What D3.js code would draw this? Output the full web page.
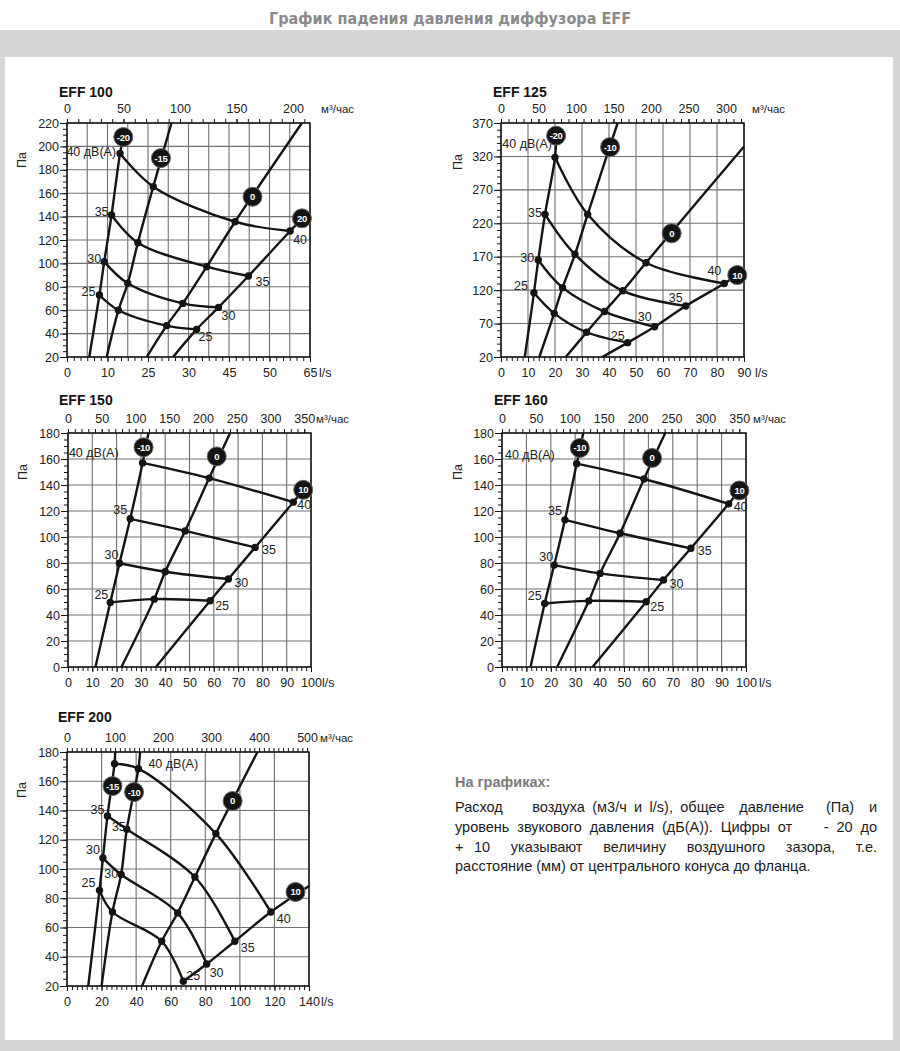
<!DOCTYPE html>
<html><head><meta charset="utf-8">
<script src="https://cdn.jsdelivr.net/npm/d3@7"></script>
<style>body{margin:0;background:#fff} svg{display:block}</style>
</head><body><div id="chart"></div>
<script>
// ================= DATA =================
const pageTitle = "График падения давления диффузора EFF";
const dbLevels = [25, 30, 35, 40];
const dbUnit = "дВ(А)";
const unitTop = "м³/час";
const unitBottom = "l/s";
const unitY = "Па";
const noteTitle = "На графиках:";
const noteLines = [
  "Расход    воздуха (м3/ч и l/s), общее  давление   (Па)  и",
  "уровень звукового давления (дБ(А)). Цифры от    - 20 до",
  "+ 10  указывают  величину  воздушного  зазора,  т.е.",
  "расстояние (мм) от центрального конуса до фланца."
];

// ---- EFF 100 ---- (x in l/s, y in Pa)
const eff100Gaps = ["-20", "-15", "0", "20"];
const eff100XTicks = [0, 10, 20, 30, 40, 50, 60];
const eff100XLabels = ["0", "10", "25", "30", "45", "50", "65"];
const eff100TopTicks = [0, 50, 100, 150, 200];
const eff100YTicks = [20, 40, 60, 80, 100, 120, 140, 160, 180, 200, 220];
const eff100Start = [[5.5, 20], [9.8, 20], [19.7, 20], [26.2, 20]];
const eff100End = [[13.9, 208], [25.8, 220], [58, 220], [58, 138.5]];
const eff100Badge = [[13.9, 208], [23.2, 190], [45.8, 157], [58, 138.5]];
const eff100Dots = [
  [[8.0, 73], [12.7, 60], [24.6, 46.8], [32.0, 43.6]],
  [[9.2, 101.5], [15.0, 83], [28.6, 65.8], [37.4, 62.4]],
  [[11.0, 141.4], [17.5, 117.7], [34.5, 97.2], [44.8, 89.2]],
  [[13.1, 194], [21.3, 165.6], [41.5, 135.6], [55.1, 127.7]]
];

// ---- EFF 125 ----
const eff125Gaps = ["-20", "-10", "0", "10"];
const eff125XTicks = [0, 10, 20, 30, 40, 50, 60, 70, 80, 90];
const eff125TopTicks = [0, 50, 100, 150, 200, 250, 300];
const eff125YTicks = [20, 70, 120, 170, 220, 270, 320, 370];
const eff125Start = [[8.8, 20], [14.2, 20], [24, 20], [37.5, 20]];
const eff125End = [[20.4, 351], [43.2, 370], [90, 335], [87.5, 142.6]];
const eff125Badge = [[20.4, 351], [40.4, 334], [63.2, 205], [87.5, 142.6]];
const eff125Dots = [
  [[12.2, 116], [19.7, 85.3], [31.7, 57], [46.9, 41.5]],
  [[13.8, 165], [22.8, 123.7], [38.3, 88], [56.9, 65.3]],
  [[16.3, 233.4], [27.4, 173.6], [45.1, 119], [68.4, 96.3]],
  [[20, 318.6], [32.1, 233.4], [53.7, 161], [82.7, 130]]
];

// ---- EFF 150 ----
const eff150Gaps = ["-10", "0", "10"];
const eff150XTicks = [0, 10, 20, 30, 40, 50, 60, 70, 80, 90, 100];
const eff150TopTicks = [0, 50, 100, 150, 200, 250, 300, 350];
const eff150YTicks = [0, 20, 40, 60, 80, 100, 120, 140, 160, 180];
const eff150Start = [[11.3, 0], [22.0, 0], [36.2, 0]];
const eff150End = [[33.1, 180], [66.7, 180], [96.8, 136.3]];
const eff150Badge = [[31.1, 169], [61.2, 162], [96.8, 136.3]];
const eff150Dots = [
  [[17.4, 49.7], [35.5, 52.2], [58.5, 51]],
  [[21.2, 79.8], [40, 73.3], [66, 67.7]],
  [[25.6, 114], [48.2, 104.7], [77, 92]],
  [[30.7, 157], [58.1, 145.3], [92.7, 126.8]]
];

// ---- EFF 160 ----
const eff160Gaps = ["-10", "0", "10"];
const eff160XTicks = [0, 10, 20, 30, 40, 50, 60, 70, 80, 90, 100];
const eff160TopTicks = [0, 50, 100, 150, 200, 250, 300, 350];
const eff160YTicks = [0, 20, 40, 60, 80, 100, 120, 140, 160, 180];
const eff160Start = [[11.7, 0], [22.6, 0], [37.1, 0]];
const eff160End = [[33.3, 180], [66.9, 180], [97.3, 135.8]];
const eff160Badge = [[31.9, 168.5], [61.5, 160.8], [97.3, 135.8]];
const eff160Dots = [
  [[17.5, 48.9], [35.6, 50.9], [59.1, 50.2]],
  [[21.4, 78.4], [40.2, 72], [66.2, 66.9]],
  [[25.8, 113.2], [48.4, 102.9], [77.4, 91.3]],
  [[30.6, 156.4], [58.2, 144.6], [92.9, 125.5]]
];

// ---- EFF 200 ----
const eff200Gaps = ["-15", "-10", "0", "10"];
const eff200XTicks = [0, 20, 40, 60, 80, 100, 120, 140];
const eff200TopTicks = [0, 100, 200, 300, 400, 500];
const eff200YTicks = [20, 40, 60, 80, 100, 120, 140, 160, 180];
const eff200Start = [[12.3, 20], [20, 20], [43.4, 20], [67.3, 23.2]];
const eff200End = [[27.9, 180], [42.3, 180], [110.2, 180], [140, 88.4]];
const eff200Badge = [[26.3, 156.7], [38.8, 152.6], [95.8, 146.5], [132.2, 84.3]];
const eff200Dots = [
  [[18.8, 85.4], [26.3, 70.6], [54.8, 50.6], [67.3, 23.2]],
  [[20.8, 107.5], [31.3, 96.2], [64, 70], [80.8, 35]],
  [[23.4, 136.2], [34.6, 127.2], [74, 94.5], [97.1, 50.6]],
  [[27.5, 172], [41.3, 168.6], [86.1, 124.2], [117.9, 70.6]]
];

// ================= LAYOUT / STYLE =================
const FONT = '"Liberation Sans", Arial, sans-serif';
const INK = "#141414";
const GRID = "#707070";
const W = 900, H = 1051;

// label spec: [gapIndex, dbIndex, anchor, dx, dy, withUnit]
const charts = [
  { title: "EFF 100", titlePos: [59, 96.5], box: [67, 123, 243, 234],
    xDomain: [0, 60], xGrid: d3.range(0, 60.01, 5), xTicks: eff100XTicks, xLabels: eff100XLabels, xMinor: d3.range(0, 60.01, 5 / 3),
    topDomain: [0, 215], topTicks: eff100TopTicks, topMinor: d3.range(0, 215, 10),
    yDomain: [20, 220], yTicks: eff100YTicks, yMinor: d3.range(20, 220.01, 5),
    gaps: eff100Gaps, start: eff100Start, end: eff100End, badge: eff100Badge, dots: eff100Dots,
    paPos: [22, 160], topUnitDx: 11, botUnitDx: 9,
    labels: [[0,0,"end",-4,-3,0],[0,1,"end",-3,-3,0],[0,2,"end",-3,-3,0],[0,3,"end",-4,-1,1],
             [3,0,"start",2,8,0],[3,1,"start",3,9,0],[3,2,"start",7,6,0],[3,3,"start",3,9,0]] },
  { title: "EFF 125", titlePos: [493, 96.5], box: [501, 123, 243, 234],
    xDomain: [0, 90], xGrid: d3.range(0, 90.01, 10), xTicks: eff125XTicks, xLabels: null, xMinor: d3.range(0, 90.01, 2),
    topDomain: [0, 324], topTicks: eff125TopTicks, topMinor: d3.range(0, 324, 10),
    yDomain: [20, 370], yTicks: eff125YTicks, yMinor: d3.range(20, 370.01, 10),
    gaps: eff125Gaps, start: eff125Start, end: eff125End, badge: eff125Badge, dots: eff125Dots,
    paPos: [458, 162], topUnitDx: 8, botUnitDx: 11,
    labels: [[0,0,"end",-6,-7,0],[0,1,"end",-4,-2,0],[0,2,"end",-3,-1,0],[0,3,"end",-3,-13,1],
             [3,0,"end",-3,-7,0],[3,1,"end",-3,-10,0],[3,2,"end",-3,-8,0],[3,3,"end",-3,-12,0]] },
  { title: "EFF 150", titlePos: [59, 405], box: [68, 433, 243, 234],
    xDomain: [0, 100], xGrid: d3.range(0, 100.01, 10), xTicks: eff150XTicks, xLabels: null, xMinor: d3.range(0, 100.01, 2),
    topDomain: [0, 360], topTicks: eff150TopTicks, topMinor: d3.range(0, 360, 10),
    yDomain: [0, 180], yTicks: eff150YTicks, yMinor: d3.range(0, 180.01, 5),
    gaps: eff150Gaps, start: eff150Start, end: eff150End, badge: eff150Badge, dots: eff150Dots,
    paPos: [23, 472], topUnitDx: 5, botUnitDx: 11,
    labels: [[0,0,"end",-2,-7,0],[0,1,"end",-1,-8,0],[0,2,"end",-3,-9,0],[0,3,"end",-24,-10,1],
             [2,0,"start",5,5,0],[2,1,"start",6,4,0],[2,2,"start",7,3,0],[2,3,"start",4,3,0]] },
  { title: "EFF 160", titlePos: [494, 405], box: [502, 433, 244, 234],
    xDomain: [0, 100], xGrid: d3.range(0, 100.01, 10), xTicks: eff160XTicks, xLabels: null, xMinor: d3.range(0, 100.01, 2),
    topDomain: [0, 360], topTicks: eff160TopTicks, topMinor: d3.range(0, 360, 10),
    yDomain: [0, 180], yTicks: eff160YTicks, yMinor: d3.range(0, 180.01, 5),
    gaps: eff160Gaps, start: eff160Start, end: eff160End, badge: eff160Badge, dots: eff160Dots,
    paPos: [458, 472], topUnitDx: 7, botUnitDx: 13,
    labels: [[0,0,"end",-3,-7,0],[0,1,"end",-1,-8,0],[0,2,"end",-3,-9,0],[0,3,"end",-22,-9,1],
             [2,0,"start",4,5,0],[2,1,"start",6,4,0],[2,2,"start",7,3,0],[2,3,"start",5,3,0]] },
  { title: "EFF 200", titlePos: [58, 721.5], box: [67, 752, 242, 234],
    xDomain: [0, 140], xGrid: d3.range(0, 140.01, 20), xTicks: eff200XTicks, xLabels: null, xMinor: d3.range(0, 140.01, 20 / 7),
    topDomain: [0, 504], topTicks: eff200TopTicks, topMinor: d3.range(0, 504, 10),
    yDomain: [20, 180], yTicks: eff200YTicks, yMinor: d3.range(20, 180.01, 5),
    gaps: eff200Gaps, start: eff200Start, end: eff200End, badge: eff200Badge, dots: eff200Dots,
    paPos: [22, 790], topUnitDx: 11, botUnitDx: 12,
    labels: [[0,0,"end",-4,-7,0],[0,1,"end",-3,-8,0],[0,2,"end",-3,-6,0],
             [1,1,"end",-3,-1,0],[1,2,"end",-1,-2,0],[1,3,"start",10,-5,1],
             [3,0,"start",3,-5,0],[3,1,"start",3,9,0],[3,2,"start",6,7,0],[3,3,"start",6,7,0]] }
];

// ================= DRAW =================
const svg = d3.select("#chart").append("svg")
  .attr("width", W).attr("height", H)
  .attr("font-family", FONT);

svg.append("rect").attr("width", W).attr("height", H).attr("fill", "#d6d6d6");
svg.append("rect").attr("width", W).attr("height", 30).attr("fill", "#ffffff");
svg.append("rect").attr("x", 5).attr("y", 57).attr("width", 888).attr("height", 983).attr("fill", "#ffffff");

svg.append("text").attr("x", 450).attr("y", 23.5).attr("text-anchor", "middle")
  .attr("font-family", '"DejaVu Sans Condensed", "DejaVu Sans", sans-serif')
  .attr("font-weight", "bold").attr("font-size", 15.5).attr("fill", "#8a8a8a")
  .attr("textLength", 362).attr("lengthAdjust", "spacingAndGlyphs")
  .text(pageTitle);

function styleAxis(sel) {
  sel.select(".domain").remove();
  sel.selectAll("line").attr("stroke", INK).attr("stroke-width", 1);
  sel.selectAll("text").attr("font-size", 12.5).attr("fill", "#222").attr("font-family", FONT);
}

function dedupe(pts) {
  return pts.filter((p, i) => i === 0 || p[0] !== pts[i - 1][0] || p[1] !== pts[i - 1][1]);
}

function drawChart(c) {
  const [bx, by, bw, bh] = c.box;
  const x = d3.scaleLinear().domain(c.xDomain).range([bx, bx + bw]);
  const xt = d3.scaleLinear().domain(c.topDomain).range([bx, bx + bw]);
  const y = d3.scaleLinear().domain(c.yDomain).range([by + bh, by]);
  const g = svg.append("g");

  g.append("text").attr("x", c.titlePos[0]).attr("y", c.titlePos[1])
    .attr("font-weight", "bold").attr("font-size", 14).attr("fill", INK).text(c.title);

  // grid
  g.append("g").selectAll("line").data(c.xGrid).join("line")
    .attr("x1", d => x(d)).attr("x2", d => x(d)).attr("y1", by).attr("y2", by + bh)
    .attr("stroke", GRID).attr("stroke-width", 1.1);
  g.append("g").selectAll("line").data(c.yTicks).join("line")
    .attr("x1", bx).attr("x2", bx + bw).attr("y1", d => y(d)).attr("y2", d => y(d))
    .attr("stroke", GRID).attr("stroke-width", 1.1);

  // axes
  g.append("g").attr("transform", `translate(${bx},0)`)
    .call(d3.axisLeft(y).tickValues(c.yMinor).tickSize(4).tickFormat("")).call(styleAxis);
  g.append("g").attr("transform", `translate(${bx},0)`)
    .call(d3.axisLeft(y).tickValues(c.yTicks).tickSize(7).tickPadding(1)).call(styleAxis);
  g.append("g").attr("transform", `translate(0,${by + bh})`)
    .call(d3.axisBottom(x).tickValues(c.xMinor).tickSize(4).tickFormat("")).call(styleAxis);
  g.append("g").attr("transform", `translate(0,${by + bh})`)
    .call(d3.axisBottom(x).tickValues(c.xTicks).tickSize(5).tickPadding(6.5)
      .tickFormat((d, i) => c.xLabels ? c.xLabels[i] : String(d))).call(styleAxis);
  g.append("g").attr("transform", `translate(0,${by})`)
    .call(d3.axisTop(xt).tickValues(c.topMinor).tickSize(4).tickFormat("")).call(styleAxis);
  g.append("g").attr("transform", `translate(0,${by})`)
    .call(d3.axisTop(xt).tickValues(c.topTicks).tickSize(4).tickPadding(6.5)).call(styleAxis);

  // frame
  g.append("rect").attr("x", bx).attr("y", by).attr("width", bw).attr("height", bh)
    .attr("fill", "none").attr("stroke", INK).attr("stroke-width", 1.5);

  // units
  g.append("text").attr("x", bx + bw + c.topUnitDx).attr("y", by - 10.5)
    .attr("font-size", 11.5).attr("fill", "#222").text(unitTop);
  g.append("text").attr("x", bx + bw + c.botUnitDx).attr("y", by + bh + 20.4)
    .attr("font-size", 12.5).attr("fill", "#222").text(unitBottom);
  g.append("text").attr("transform", `translate(${c.paPos[0]},${c.paPos[1]}) rotate(-90)`)
    .attr("text-anchor", "middle").attr("dominant-baseline", "central")
    .attr("font-size", 12.5).attr("fill", "#222").text(unitY);

  // curve labels
  g.append("g").selectAll("text").data(c.labels).join("text")
    .attr("x", d => x(c.dots[d[1]][d[0]][0]) + d[3])
    .attr("y", d => y(c.dots[d[1]][d[0]][1]) + d[4])
    .attr("text-anchor", d => d[2]).attr("dominant-baseline", "central")
    .attr("font-size", 12.5).attr("fill", "#222")
    .text(d => d[5] ? `${dbLevels[d[1]]} ${dbUnit}` : String(dbLevels[d[1]]));

  const line = d3.line().x(d => x(d[0])).y(d => y(d[1])).curve(d3.curveCatmullRom.alpha(0.5));

  // air-gap lines
  g.append("g").selectAll("path").data(c.gaps.map((_, i) =>
      dedupe([c.start[i], ...c.dots.map(r => r[i]), c.end[i]])))
    .join("path").attr("d", line).attr("fill", "none")
    .attr("stroke", INK).attr("stroke-width", 2.4).attr("stroke-linejoin", "round");

  // sound level curves
  g.append("g").selectAll("path").data(c.dots).join("path")
    .attr("d", line).attr("fill", "none")
    .attr("stroke", INK).attr("stroke-width", 2.4);

  // dots
  g.append("g").selectAll("circle").data(c.dots.flat()).join("circle")
    .attr("cx", d => x(d[0])).attr("cy", d => y(d[1])).attr("r", 3.7).attr("fill", INK);

  // badges
  const bg = g.append("g").selectAll("g").data(c.gaps.map((n, i) => ({ n, p: c.badge[i] }))).join("g")
    .attr("transform", d => `translate(${x(d.p[0])},${y(d.p[1])})`);
  bg.append("circle").attr("r", 9.5).attr("fill", INK).attr("stroke", "#666").attr("stroke-width", 1);
  bg.append("text").attr("text-anchor", "middle").attr("dominant-baseline", "central")
    .attr("font-size", 9.5).attr("font-weight", "bold").attr("fill", "#fff")
    .attr("letter-spacing", -0.3).text(d => d.n);
}

charts.forEach(drawChart);

// ---- notes ----
svg.append("text").attr("x", 455).attr("y", 787).attr("font-size", 14.5)
  .attr("font-weight", "bold").attr("fill", "#7a7a7a").text(noteTitle);

const NOTE_W = 422;
noteLines.forEach((ln, i) => {
  const t = svg.append("text").attr("x", 455).attr("y", 812 + i * 19.8)
    .attr("font-size", 14.5).attr("fill", "#1c1c1c")
    .style("white-space", "pre").text(ln);
  if (i < noteLines.length - 1) {
    const nat = t.node().getComputedTextLength();
    const spaces = (ln.match(/ /g) || []).length;
    if (spaces > 0) t.attr("word-spacing", (NOTE_W - nat) / spaces);
  }
});
</script>
</body></html>
